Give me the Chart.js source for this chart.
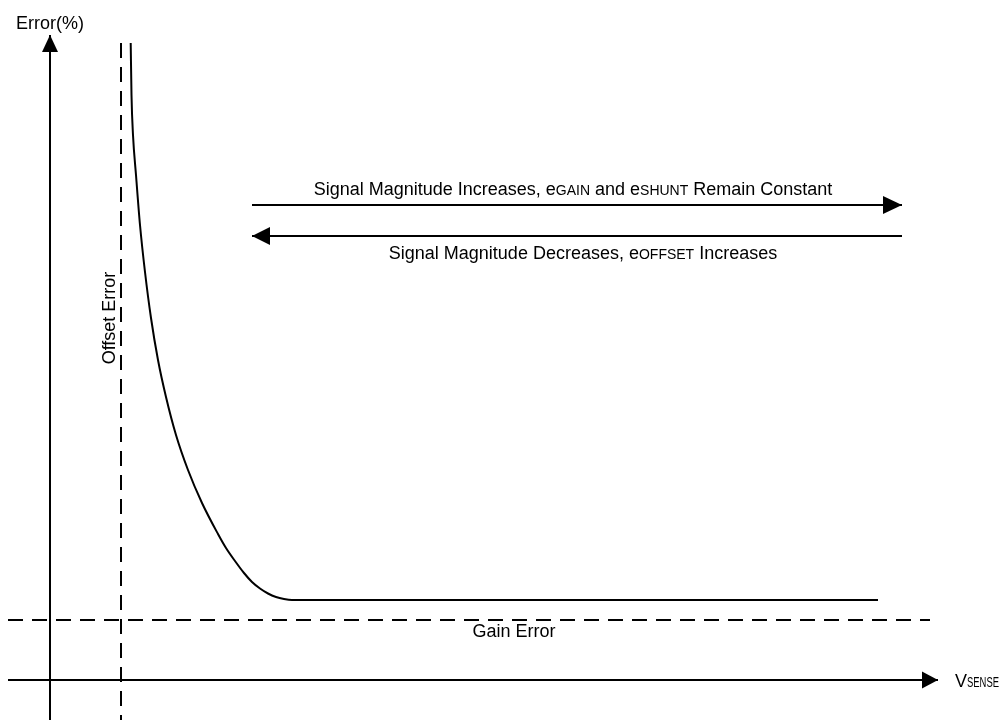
<!DOCTYPE html>
<html>
<head>
<meta charset="utf-8">
<script src="https://cdn.jsdelivr.net/npm/chart.js@4/dist/chart.umd.min.js"></script>
<style>
  html, body { margin: 0; padding: 0; background: #fff; overflow: hidden; }
  canvas { display: block; }
</style>
</head>
<body>
<canvas id="c" width="1008" height="720"></canvas>
<script>
// Total error (%) versus sense voltage, in diagram units
const vsense   = [80.7, 81.5, 83, 86, 90, 95, 101, 108, 116, 126, 138, 152, 168, 176, 185, 194, 202, 210, 218, 226, 234, 242, 828];
const errorPct = [637, 585, 545, 505, 455, 408, 362, 320, 283, 245, 210, 177, 146, 132, 119, 107, 98, 91.5, 86.5, 83, 81, 80, 80];

// Reference levels
const offsetErrorX = 71;
const gainErrorY = 60;

// Axis extents
const xAxisSpan = [-42, 888];
const yAxisSpan = [-40, 645];
const offsetLineSpan = [637, -40];
const gainLineSpan = [-42, 880];

// Direction arrows
const increaseArrowY = 475;
const decreaseArrowY = 444;
const arrowSpan = [202, 852];

const FONT = "'Liberation Sans', Arial, Helvetica, sans-serif";
const INK = '#000';

function pts(xs, ys) { return xs.map((x, i) => ({ x: x, y: ys[i] })); }

const lineBase = {
  showLine: true, pointRadius: 0, borderColor: INK, borderWidth: 2,
  fill: false, borderCapStyle: 'butt'
};

const datasets = [
  Object.assign({}, lineBase, { label: 'Error', data: pts(vsense, errorPct), cubicInterpolationMode: 'monotone' }),
  Object.assign({}, lineBase, { label: 'Offset Error', data: pts([offsetErrorX, offsetErrorX], offsetLineSpan), borderDash: [15, 9] }),
  Object.assign({}, lineBase, { label: 'Gain Error', data: pts(gainLineSpan, [gainErrorY, gainErrorY]), borderDash: [15, 9] }),
  Object.assign({}, lineBase, { label: 'x axis', data: pts(xAxisSpan, [0, 0]) }),
  Object.assign({}, lineBase, { label: 'y axis', data: pts([0, 0], yAxisSpan) }),
  Object.assign({}, lineBase, { label: 'increase', data: pts(arrowSpan, [increaseArrowY, increaseArrowY]) }),
  Object.assign({}, lineBase, { label: 'decrease', data: pts(arrowSpan, [decreaseArrowY, decreaseArrowY]) })
];

// Text drawn as runs: normal text plus small-caps subscripts on the same baseline.
// A run may carry a third entry, the widest it may be drawn.
function runWidth(ctx, r) {
  ctx.font = r[1] + 'px ' + FONT;
  const w = ctx.measureText(r[0]).width;
  return r[2] ? Math.min(w, r[2]) : w;
}
function drawRuns(ctx, runs, x, y, align) {
  let total = 0;
  runs.forEach(r => { total += runWidth(ctx, r); });
  let cx = align === 'center' ? x - total / 2 : x;
  ctx.textAlign = 'left';
  ctx.textBaseline = 'alphabetic';
  runs.forEach(r => {
    const w = runWidth(ctx, r);
    if (r[2]) ctx.fillText(r[0], cx, y, r[2]); else ctx.fillText(r[0], cx, y);
    cx += w;
  });
}

function arrowHead(ctx, x, y, dir, len, half) {
  ctx.beginPath();
  if (dir === 'right') { ctx.moveTo(x, y); ctx.lineTo(x - len, y - half); ctx.lineTo(x - len, y + half); }
  if (dir === 'left')  { ctx.moveTo(x, y); ctx.lineTo(x + len, y - half); ctx.lineTo(x + len, y + half); }
  if (dir === 'up')    { ctx.moveTo(x, y); ctx.lineTo(x - half, y + len); ctx.lineTo(x + half, y + len); }
  ctx.closePath();
  ctx.fill();
}

const annotate = {
  id: 'annotate',
  afterDatasetsDraw(chart) {
    const ctx = chart.ctx;
    const sx = chart.scales.x, sy = chart.scales.y;
    const X = v => sx.getPixelForValue(v), Y = v => sy.getPixelForValue(v);
    ctx.save();
    ctx.fillStyle = INK;

    arrowHead(ctx, X(0), Y(yAxisSpan[1]), 'up', 17, 8);
    arrowHead(ctx, X(xAxisSpan[1]), Y(0), 'right', 16, 8.5);
    arrowHead(ctx, X(arrowSpan[1]), Y(increaseArrowY), 'right', 19, 9);
    arrowHead(ctx, X(arrowSpan[0]), Y(decreaseArrowY), 'left', 18, 9);

    drawRuns(ctx, [['Error(%)', 18]], X(0), Y(651), 'center');
    drawRuns(ctx, [['Signal Magnitude Increases, e', 18], ['GAIN', 14], [' and e', 18], ['SHUNT', 14], [' Remain Constant', 18]],
             X(523), Y(485), 'center');
    drawRuns(ctx, [['Signal Magnitude Decreases, e', 18], ['OFFSET', 14], [' Increases', 18]],
             X(533), Y(421), 'center');
    drawRuns(ctx, [['Gain Error', 18]], X(464), Y(43), 'center');
    drawRuns(ctx, [['V', 18], ['SENSE', 14, 32]], X(905), Y(-7), 'left');

    ctx.translate(X(65), Y(362));
    ctx.rotate(-Math.PI / 2);
    drawRuns(ctx, [['Offset Error', 18]], 0, 0, 'center');
    ctx.restore();
  }
};

new Chart(document.getElementById('c'), {
  type: 'scatter',
  data: { datasets: datasets },
  options: {
    responsive: false,
    devicePixelRatio: 1,
    animation: false,
    events: [],
    layout: { padding: 0 },
    plugins: { legend: { display: false }, tooltip: { enabled: false }, title: { display: false } },
    scales: {
      x: { type: 'linear', min: -50, max: 958, display: false },
      y: { type: 'linear', min: -40, max: 680, display: false }
    }
  },
  plugins: [annotate]
});
</script>
</body>
</html>
